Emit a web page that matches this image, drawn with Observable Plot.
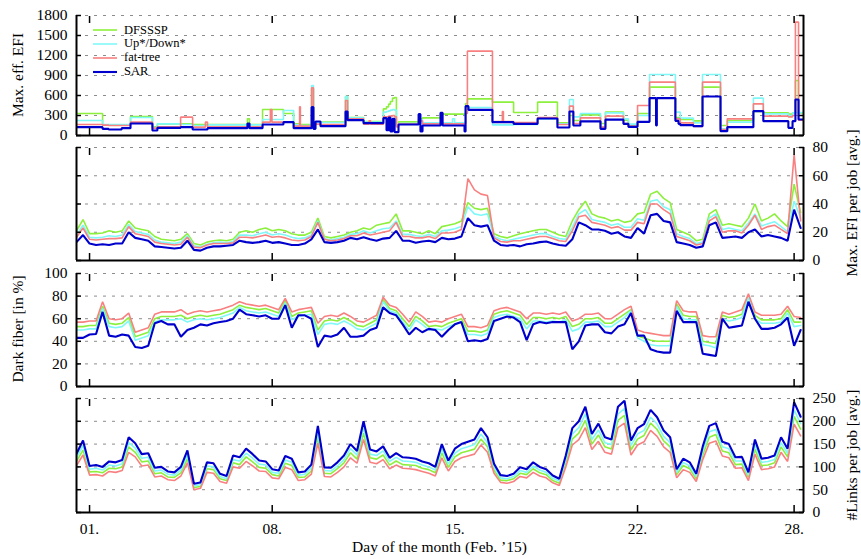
<!DOCTYPE html>
<html><head><meta charset="utf-8">
<script src="https://cdn.jsdelivr.net/npm/d3@7"></script>
<script src="https://cdn.jsdelivr.net/npm/@observablehq/plot@0.6"></script>
<style>
body{margin:0;background:#fff;}
#chart{position:relative;width:861px;height:559px;font-family:"Liberation Serif","DejaVu Serif",serif;color:#000;overflow:hidden;}
#chart svg.plot-panel{position:absolute;left:0;}
.lab{position:absolute;font-size:15.5px;white-space:nowrap;line-height:16px;}
.leg{position:absolute;font-size:12.5px;white-space:nowrap;line-height:13px;height:13px;}
</style></head><body><div id="chart"></div>
<script>
// ---------- data ----------
const seriesNames = ["DFSSSP", "Up*/Down*", "fat-tree", "SAR"];
const seriesColors = ["#8cf03c", "#80f8f8", "#f88080", "#0000cc"];

const xDomain = [0.5, 28.36];
const xTickDays = [1, 8, 15, 22, 28];
const xTickLabels = ["01.", "08.", "15.", "22.", "28."];

const p1YTicks = [0, 300, 600, 900, 1200, 1500, 1800];
const p2YTicks = [0, 20, 40, 60, 80];
const p3YTicks = [0, 20, 40, 60, 80, 100];
const p4YTicks = [0, 50, 100, 150, 200, 250];

// Panel 1: max. effective EFI (step data, change points in days)
const p1Days = [0.5,1.5,1.73,2.23,2.57,3.41,3.6,4.49,4.95,5.44,5.52,7.05,7.13,7.63,7.93,7.99,8.43,8.82,9.05,9.08,9.51,9.58,9.66,9.85,10.81,10.89,11.5,11.71,11.77,12.26,12.38,12.46,12.53,12.61,12.69,12.76,12.84,13.61,13.68,13.76,14.45,14.53,14.91,14.99,15.37,15.41,15.48,15.52,16.44,16.82,16.86,17.25,18.17,18.93,19.39,19.54,19.81,20.58,20.77,21.46,21.65,22.0,22.46,22.71,22.74,23.45,23.57,23.64,24.14,24.49,25.18,25.44,26.44,26.82,27.78,27.94,28.05,28.17,28.36];
const p1DFSSSP = [330,160,160,160,285,130,175,175,165,165, 165,250,165,390,390,390,330,175,175,165, 700,165,200,200,585,270,210,210,210,400, 430,470,510,560,570,150,205,250,250,265, 320,320,320,320,330,480,550,550,500,500, 500,345,500,190,300,225,310,180,350,230, 160,330,725,725,725,270,270,240,220,725, 150,225,360,340,320,340,825,340,340];
const p1UpDown = [225,165,165,165,270,120,175,165,150,150, 160,160,160,240,240,240,375,160,160,150, 750,165,200,195,585,265,200,200,200,350, 360,370,380,390,380,140,180,230,230,190, 190,190,250,190,200,400,420,420,160,160, 160,165,250,175,540,280,330,130,340,250, 170,300,915,915,915,350,350,260,190,915, 100,200,560,325,300,340,345,345,345];
const p1FatTree = [165,155,150,150,200,110,130,275,125,200, 130,130,130,200,390,200,200,140,430,140, 715,160,170,165,525,250,170,220,170,280, 280,290,290,300,280,130,170,220,220,175, 175,175,175,175,180,330,1265,1265,210,360, 210,195,270,165,440,180,265,125,290,180, 140,450,800,800,800,250,250,190,135,800, 90,250,475,290,280,300,1700,230,230];
const p1SAR = [125,100,90,110,180,75,115,125,90,90, 110,180,110,165,165,165,200,110,110,110, 425,100,210,140,360,230,185,185,185,260, 80,270,60,250,50,50,165,320,60,150, 340,150,150,150,60,440,440,385,200,200, 200,175,255,120,360,150,212,100,238,175, 130,205,560,150,560,220,175,155,140,585, 65,125,365,215,115,215,540,240,240];

// Panels 2-4: sampled every 6 hours from day 0.5 to 28.25 (112 samples)
const days = d3.range(0.5, 28.3, 0.25);

// Panel 2: max. EFI per job [avg.]
const p2DFSSSP = [21,29,19,19,19.5,21,20,21, 28,23,22,21,17,15,14.5,14, 15,19,12,11,13,14,14.5,14, 15,20,21,20,22,23,21,22, 21,19,18,18,20,30,17,16, 17,18,20,21,23,22,25,26, 27,33,21,21,20,19,21,19, 24,25,26,28,41,37,36,37, 19,17,16,17.5,19,20,21,22, 22,20,18,17,28,36,42,33, 31,30,28,29,27,28,33,34, 47,49,44,41,22,20,18,14, 15,33,36,25,26,25,24,30, 40,28,30,33,28,24,54,34];
const p2UpDown = [18,25,16.5,16,16.5,17.5,17,18, 25.5,20.5,19.5,18.5,14.5,13,12.5,12, 13,17.5,10.5,9.5,11.5,12.5,13,12.5, 13.5,18,18,17.5,19,20,18,19, 18,16.5,15.5,16,18,28,15.5,14.5, 15.5,16.5,18.5,19,21,19.5,21,22.5, 23,28,18.5,18.5,17.5,17,18.5,17, 21,21.5,22.5,24,38,33,32,33, 17,15,14,15,16,17,18,19, 19,17,15.5,15,23.5,33,36,29, 28,27,25,26,23.5,23.5,29.5,28.5, 42,43,38,36,19,17,15.5,12, 13,30,33,22,23,22,21,26.5, 33,24.5,26,27.5,24,20.5,42,30];
const p2FatTree = [16.5,23,15,14.5,15,15.5,15.5,16, 24,19,18,17,13,12,11.5,11, 11.5,16.5,9.5,9,11,12,12,12, 12.5,16.5,16.5,16,17,18,16.5,17, 16,14.5,14,14.5,17,27,15,14, 14.5,15.5,17.5,17.5,19.5,18,19,20, 21,27,17,17,16,16,17,15.5, 19.5,19.5,20,22,58,50,47,46, 16,13.5,13,14,14,15,16,17, 17,15.5,14,13.5,21,31,32,27, 26,25,23,24,21.5,21.5,27,26, 40,40,36,33,17,15.5,14,11, 12,28,31,20,21,21,19.5,25, 32,22,24,25,22,19,75,28];
const p2SAR = [13,18,12,11,11.5,11,12,12, 20,16,15,14,10,9.5,9,8.5, 9,14,7.5,7,9,10,10,10.5, 11,14,13,12.5,13,14,12.5,13, 12,11,11,12,15,22,13,12.5, 13,14,16,15,16.5,15,14,15.5, 16,21,14,14,12.5,13.5,14,13, 16,15,15.5,17,30,25,24,25, 14,11,10.5,11,10,11.5,12,13, 13.5,12,11,10.5,15,27,25,22, 22,21,19,20,17,16,23,19, 32,33,28,27,13,12,11,9, 10,25,27,16,16.5,17,16,20, 22,17,18,17,16,14,36,23];

// Panel 3: dark fiber [in %]
const p3DFSSSP = [53,53,54,54,71,56,55,56, 61,44,46,48,60,62,62,62, 63,60,62,63,62,63,64,66, 68,72,70,69,68,69,67,65, 76,62,65,66,67,50,58,59, 58,61,58,54,53,56,59,77, 69,67,60,53,62,58,53,54, 53,56,58,60,49,49,48,50, 64,66,67,65,63,55,61,61, 60,61,60,62,53,55,60,60, 61,56,56,60,64,68,45,43, 41,40,40,40,73,63,62,62, 40,39,38,63,61,62,64,80, 63,59,59,59,60,68,57,57];
const p3UpDown = [50,50,51,51,69,53,52,53, 58,41,43,45,57,59,59,59, 60,57,59,60,59,60,61,63, 65,70,67,66,65,66,64,62, 74,59,62,63,64,46,55,56, 55,58,55,51,50,53,56,75, 67,65,57,50,59,55,50,51, 50,53,55,57,46,46,45,47, 61,63,64,62,60,51,58,58, 57,58,57,59,49,51,57,57, 58,53,53,57,61,67,43,40, 37,36,36,36,71,60,59,59, 37,36,34,60,58,59,61,79, 60,56,56,56,57,65,53,54];
const p3FatTree = [57,57,58,58,75,60,59,60, 65,48,50,52,64,66,66,66, 68,64,66,67,66,67,68,70, 72,75,73,72,71,72,70,68, 78,66,68,69,70,56,62,63, 62,65,62,58,57,60,63,79, 72,70,64,57,66,62,57,58, 57,60,62,64,53,53,52,54, 67,69,70,68,66,60,65,65, 64,65,64,66,58,60,64,64, 65,60,60,64,68,71,50,48, 47,46,45,45,76,67,66,66, 45,44,44,66,64,66,68,82, 66,63,63,63,64,71,62,61];
const p3SAR = [43,43,46,46.5,66,45,44,46, 45,35,34,36,56,58,55,55, 44,50,52,55,54,56,57,58, 60,68,64,63,62,63,60,60, 72,52,63,63,60,35,45,44, 46,52,44,44,45,50,52,70, 65,63,55,46,52,48,51,50, 44,50,55,57,40,41,40,42, 58,60,62,61,57,41,55,57, 56,57,57,57,33,40,54,55, 55,48,47,53,55,65,45,45, 33,31,30,30,67,57,57,57, 29,28,27,60,52,53,54,75, 60,51,51,52,55,61,36,50];

// Panel 4: #links per job [avg.]
const p4DFSSSP = [112,137,89,90,87,97,96,100, 144,132,111,113,85,87,78,77, 87,118,55,57,96,94,74,70, 109,105,122,111,99,97,83,80, 108,103,77,78,91,165,86,85, 96,109,131,117,174,120,117,126, 104,113,105,104,103,97,94,87, 131,99,122,131,135,139,161,144, 93,71,70,74,86,83,96,87, 83,70,64,109,161,174,202,150, 170,144,139,202,213,137,161,169, 196,182,157,144,83,103,96,74, 126,165,171,135,131,105,106,77, 139,103,104,109,144,122,211,183];
const p4UpDown = [120,147,95,97,93,104,102,107, 153,141,119,121,91,93,84,82, 93,126,59,61,102,100,79,74, 116,113,130,119,106,104,88,86, 115,110,82,84,98,177,92,91, 102,116,140,126,186,128,125,135, 112,121,113,112,110,104,100,93, 140,106,130,140,144,149,172,153, 100,76,74,79,92,88,102,93, 88,75,69,116,172,186,216,160, 181,153,149,216,228,147,172,180, 209,194,167,153,88,110,102,79, 135,177,182,144,140,113,113,82, 149,110,112,116,153,130,225,195];
const p4FatTree = [103,126,82,83,80,90,88,92, 132,122,102,104,78,80,72,70, 80,109,50,53,88,86,68,64, 100,97,112,102,91,90,76,74, 99,94,70,72,84,152,79,78, 88,100,120,108,160,110,107,116, 96,104,97,96,94,90,86,80, 120,91,112,120,124,128,148,132, 86,66,64,68,79,76,88,80, 76,65,59,100,148,160,186,138, 156,132,128,186,196,126,148,155, 180,167,144,132,76,94,88,68, 116,152,157,124,120,97,98,70, 128,94,96,100,132,112,194,168];
const p4SAR = [129,158,102,104,100,112,110,115, 165,152,128,130,98,100,90,88, 100,136,63,66,110,108,85,80, 125,121,140,128,114,112,95,92, 124,118,88,90,105,190,99,98, 110,125,150,135,200,138,134,145, 120,130,121,120,118,112,108,100, 150,114,140,150,155,160,185,165, 107,82,80,85,99,95,110,100, 95,81,74,125,185,200,232,172, 195,165,160,232,245,158,185,194, 225,209,180,165,95,118,110,85, 145,190,196,155,150,121,122,88, 160,118,120,125,165,140,242,210];

// ---------- drawing ----------
const FONT = "'Liberation Serif','DejaVu Serif',serif";
const chart = document.getElementById("chart");
const xLabelMap = new Map(xTickDays.map((d, i) => [d, xTickLabels[i]]));
const widths = [1.6, 1.6, 1.6, 2.1];

function seriesMarks(xs, valueSets, curve) {
  return valueSets.map((vals, i) => Plot.lineY(vals, {
    x: xs, curve, stroke: seriesColors[i], strokeWidth: widths[i], strokeLinejoin: "miter", clip: true
  }));
}

function panel({top, height, mT, mB, yTicks, side, xLabels, lines}) {
  const yDomain = [yTicks[0], yTicks[yTicks.length - 1]];
  const marks = [
    Plot.gridY(yTicks, {stroke: "#8c8c8c", strokeOpacity: 1, strokeWidth: 1, strokeDasharray: "3,6"}),
    ...lines,
    Plot.ruleY([yDomain[0]], {stroke: "#000", strokeWidth: 2}),
    Plot.ruleX(xDomain, {stroke: "#000", strokeWidth: 2}),
    Plot.axisX(xTickDays, {anchor: "top", tickSize: 7, dy: 7, tickFormat: () => "", label: null, strokeWidth: 1.5}),
    Plot.axisX(xTickDays, {anchor: "bottom", tickSize: 7, dy: -7, tickFormat: () => "", label: null, strokeWidth: 1.5}),
    Plot.axisY(yTicks, {anchor: "left", tickSize: 5, dx: 5, tickFormat: () => "", label: null, strokeWidth: 1.5}),
    Plot.axisY(yTicks, {anchor: "right", tickSize: 5, dx: -5, tickFormat: () => "", label: null, strokeWidth: 1.5}),
    Plot.axisY(yTicks, {anchor: side, tickSize: 0, tickPadding: 9, tickFormat: d => String(d), label: null, fontFamily: FONT})
  ];
  if (xLabels) marks.push(Plot.axisX(xTickDays, {anchor: "bottom", tickSize: 0, tickPadding: 10, tickFormat: d => xLabelMap.get(d), label: null, fontFamily: FONT}));
  const svg = Plot.plot({
    width: 861, height, marginLeft: 76, marginRight: 58, marginTop: mT, marginBottom: mB,
    x: {domain: xDomain}, y: {domain: yDomain},
    style: {fontFamily: FONT, fontSize: "15.5px", color: "#000", background: "transparent", overflow: "visible"},
    marks
  });
  svg.classList.add("plot-panel");
  svg.style.top = top + "px";
  chart.appendChild(svg);
}

panel({top: 0, height: 140, mT: 15, mB: 5, yTicks: p1YTicks, side: "left", xLabels: false,
  lines: seriesMarks(p1Days, [p1DFSSSP, p1UpDown, p1FatTree, p1SAR], "step-after")});
panel({top: 140, height: 125, mT: 7, mB: 5, yTicks: p2YTicks, side: "right", xLabels: false,
  lines: seriesMarks(days, [p2DFSSSP, p2UpDown, p2FatTree, p2SAR], "linear")});
panel({top: 265, height: 126, mT: 8, mB: 5, yTicks: p3YTicks, side: "left", xLabels: false,
  lines: seriesMarks(days, [p3DFSSSP, p3UpDown, p3FatTree, p3SAR], "linear")});
panel({top: 391, height: 168, mT: 7, mB: 47, yTicks: p4YTicks, side: "right", xLabels: true,
  lines: seriesMarks(days, [p4DFSSSP, p4UpDown, p4FatTree, p4SAR], "linear")});

// axis titles
function label(text, cx, cy, rotate) {
  const d = document.createElement("div");
  d.className = "lab";
  d.textContent = text;
  d.style.left = cx + "px";
  d.style.top = cy + "px";
  d.style.transform = "translate(-50%,-50%)" + (rotate ? " rotate(-90deg)" : "");
  chart.appendChild(d);
}
label("Max. eff. EFI", 18, 75, true);
label("Max. EFI per job [avg.]", 852, 203, true);
label("Dark fiber [in %]", 18, 329, true);
label("#Links per job [avg.]", 852, 455, true);
label("Day of the month (Feb. \u201915)", 439.5, 547, false);

// legend (inside panel 1)
seriesNames.forEach((name, i) => {
  const cy = 30 + i * 13.9;
  const ln = document.createElementNS("http://www.w3.org/2000/svg", "svg");
  ln.setAttribute("width", 26); ln.setAttribute("height", 6);
  ln.style.position = "absolute"; ln.style.left = "92px"; ln.style.top = (cy - 3) + "px";
  const l = document.createElementNS("http://www.w3.org/2000/svg", "line");
  l.setAttribute("x1", 1); l.setAttribute("x2", 25); l.setAttribute("y1", 3); l.setAttribute("y2", 3);
  l.setAttribute("stroke", seriesColors[i]); l.setAttribute("stroke-width", widths[i]);
  ln.appendChild(l);
  chart.appendChild(ln);
  const t = document.createElement("div");
  t.className = "leg";
  t.textContent = name;
  t.style.left = "124px";
  t.style.top = (cy - 6.5) + "px";
  chart.appendChild(t);
});
</script></body></html>
